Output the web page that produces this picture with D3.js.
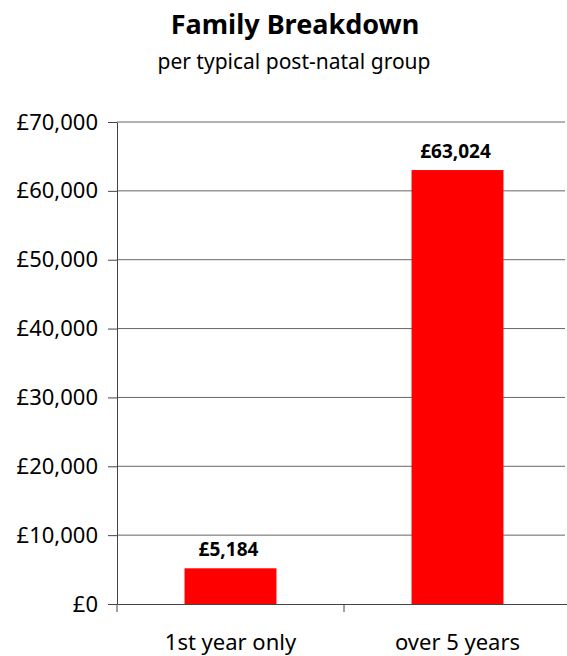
<!DOCTYPE html>
<html>
<head>
<meta charset="utf-8">
<script src="https://cdn.jsdelivr.net/npm/d3@7"></script>
<style>
  body { margin: 0; background: #fff; }
  text { font-family: "Noto Sans", "Open Sans", sans-serif; fill: #000; }
</style>
</head>
<body>
<div id="chart"></div>
<script>
// chart data
const categories = ["1st year only", "over 5 years"];
const values = [5184, 63024];
const yTicks = [0, 10000, 20000, 30000, 40000, 50000, 60000, 70000];

const width = 567, height = 656;
const margin = {top: 122, right: -4, bottom: 52, left: 117};

const svg = d3.select("#chart").append("svg")
    .attr("width", width).attr("height", height);

const x = d3.scaleBand()
    .domain(categories)
    .range([margin.left, width - margin.right]);

const y = d3.scaleLinear()
    .domain([0, 70000])
    .range([height - margin.bottom, margin.top]);

const fmt = d => "£" + d3.format(",")(d);

// title + subtitle
svg.append("text")
    .attr("x", 295).attr("y", 34)
    .attr("text-anchor", "middle")
    .attr("font-size", 27).attr("font-weight", "bold")
    .text("Family Breakdown");
svg.append("text")
    .attr("x", 294).attr("y", 69)
    .attr("text-anchor", "middle")
    .attr("font-size", 21)
    .text("per typical post-natal group");

// gridlines
svg.append("g")
    .selectAll("line")
    .data(yTicks.filter(d => d > 0))
    .join("line")
    .attr("x1", margin.left).attr("x2", width - 2)
    .attr("y1", d => y(d)).attr("y2", d => y(d))
    .attr("stroke", "#666").attr("stroke-width", 1);

// y axis
const yAxis = svg.append("g")
    .attr("transform", `translate(${margin.left},0)`)
    .call(d3.axisLeft(y).tickValues(yTicks).tickFormat(fmt).tickSizeInner(9).tickSizeOuter(0).tickPadding(10));
yAxis.select(".domain").attr("stroke", "#444");
yAxis.selectAll(".tick line").attr("stroke", "#444");
yAxis.selectAll("text").attr("font-size", 22).attr("font-family", "Noto Sans").attr("fill", "#000");

// bars
const barW = x.bandwidth() * 0.405;
svg.append("g")
    .selectAll("rect")
    .data(values)
    .join("rect")
    .attr("x", (d, i) => x(categories[i]) + x.bandwidth() / 2 - barW / 2)
    .attr("y", d => y(d))
    .attr("width", barW)
    .attr("height", d => y(0) - y(d))
    .attr("fill", "#ff0000");

// value labels
svg.append("g")
    .selectAll("text")
    .data(values)
    .join("text")
    .attr("x", (d, i) => x(categories[i]) + x.bandwidth() / 2 - 2)
    .attr("y", d => y(d) - 12)
    .attr("text-anchor", "middle")
    .attr("font-size", 19).attr("font-weight", "bold")
    .text(fmt);

// x axis
const xAxis = svg.append("g")
    .attr("transform", `translate(0,${y(0)})`)
    .call(d3.axisBottom(x).tickSize(0).tickPadding(30));
xAxis.select(".domain").attr("stroke", "#444");
xAxis.selectAll("text").attr("font-size", 22).attr("font-family", "Noto Sans").attr("fill", "#000");

// category separator ticks
svg.append("g")
    .selectAll("line")
    .data([margin.left, x(categories[1])])
    .join("line")
    .attr("x1", d => d).attr("x2", d => d)
    .attr("y1", y(0)).attr("y2", y(0) + 8)
    .attr("stroke", "#444");
</script>
</body>
</html>
